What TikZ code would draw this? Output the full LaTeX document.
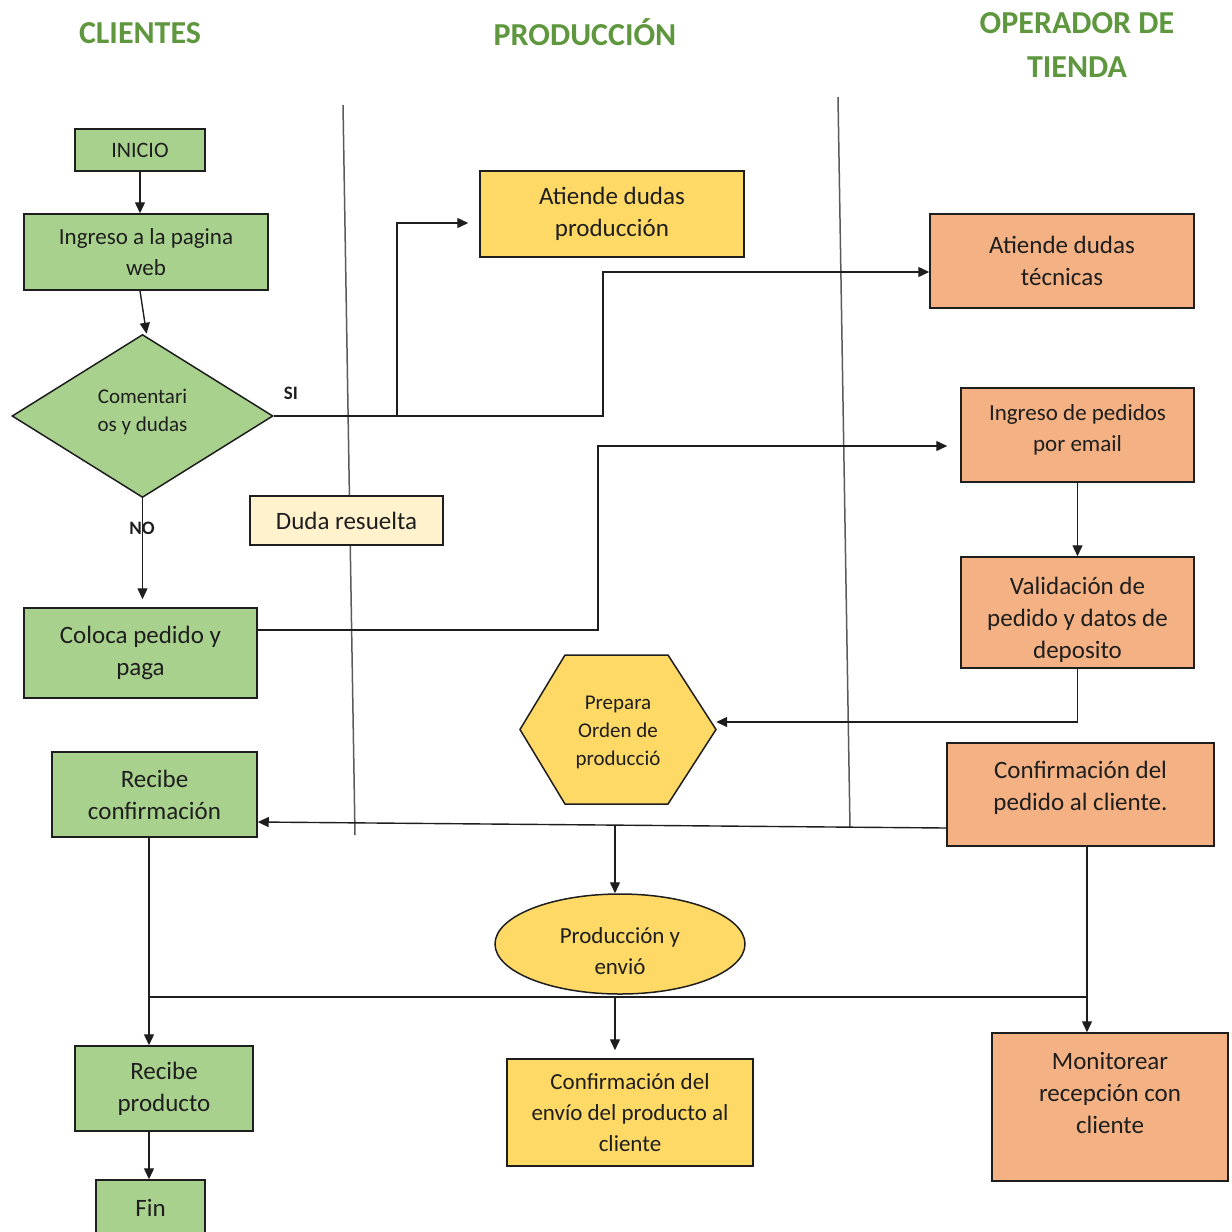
\documentclass[tikz,border=0pt]{standalone}
\usepackage{fontspec}
\setmainfont{Carlito}
\usetikzlibrary{arrows.meta,shapes.geometric}

\definecolor{hdrgreen}{RGB}{94,151,62}
\definecolor{boxgreen}{RGB}{169,209,142}
\definecolor{boxyellow}{RGB}{255,217,102}
\definecolor{boxorange}{RGB}{244,177,131}
\definecolor{boxcream}{RGB}{255,242,204}
\definecolor{ink}{RGB}{30,30,30}
\definecolor{lanegray}{RGB}{90,90,90}

\begin{document}
\begin{tikzpicture}[x=1pt,y=-1pt,
  shapeline/.style={draw=ink, line width=1.5pt},
  proc/.style={shapeline, rectangle, inner sep=0pt, align=center, text=ink},
  green/.style={proc, fill=boxgreen},
  yellow/.style={proc, fill=boxyellow},
  orange/.style={proc, fill=boxorange},
  cream/.style={proc, fill=boxcream},
  fbig/.style={font=\fontsize{25}{32}\selectfont},
  fmed/.style={font=\fontsize{23}{31}\selectfont},
  fsm/.style={font=\fontsize{21}{28}\selectfont},
  header/.style={text=hdrgreen, align=center, font=\fontsize{32}{44}\selectfont\bfseries},
  conn/.style={draw=ink, line width=1.4pt, -{Triangle[length=11pt,width=10pt]}},
  link/.style={draw=ink, line width=1.4pt},
  lanedivider/.style={draw=lanegray, line width=1.5pt},
  tag/.style={text=ink, font=\fontsize{19}{22}\selectfont\bfseries}]

\useasboundingbox (0,0) rectangle (1232,1232);

% lane headers
\node[header] (hcli) at (140,33) {CLIENTES};
\node[header] (hpro) at (585,32) {PRODUCCIÓN};
\node[header] (hope) at (1077,45) {OPERADOR DE\\TIENDA};

% lane dividers
\draw[lanedivider] (343,105) -- (355,835);
\draw[lanedivider] (838,97) -- (850,828);

% clients lane
\node[green, font=\fontsize{22}{28}\selectfont, minimum width=130, minimum height=42] (ini) at (140,150) {INICIO};
\node[green, fmed, minimum width=244, minimum height=76] (ing) at (146,252) {Ingreso a la pagina\\web};
\node[shapeline, diamond, fill=boxgreen, text=ink, align=center, inner sep=0pt,
      minimum width=261, minimum height=163, fsm, text depth=12pt] (dia) at (142.5,416) {Comentari\\os y dudas};
\node[cream, fbig, minimum width=193, minimum height=49] (duda) at (346.5,520.5) {Duda resuelta};
\node[green, fbig, minimum width=233, minimum height=90] (coloca) at (140.5,653) {Coloca pedido y\\paga};
\node[green, fbig, minimum width=205, minimum height=85] (rconf) at (154.5,794.5) {Recibe\\confirmación};
\node[green, fbig, minimum width=178, minimum height=85] (rprod) at (164,1088.5) {Recibe\\producto};
\node[green, fbig, minimum width=109, minimum height=56] (fin) at (150.5,1208) {Fin};

% production lane
\node[yellow, fbig, minimum width=264, minimum height=86] (aprod) at (612,214) {Atiende dudas\\producción};
\draw[shapeline, fill=boxyellow] (520,729.5) -- (565,655) -- (668,655) -- (716,729.5) -- (668,804) -- (565,804) -- cycle;
\node[inner sep=0pt, align=center, text=ink, fsm, text height=76pt, minimum width=196, minimum height=149] (hex) at (618,729.5) {Prepara\\Orden de\\producció};
\node[shapeline, ellipse, fill=boxyellow, text=ink, align=center, inner sep=0pt,
      minimum width=250, minimum height=100, fmed, text height=62pt] (ell) at (620,944) {Producción y\\envió};
\node[yellow, fmed, minimum width=246, minimum height=107] (cenv) at (630,1112.5) {Confirmación del\\envío del producto al\\cliente};

% store operator lane
\node[orange, fbig, minimum width=264, minimum height=94] (tec) at (1062,261) {Atiende dudas\\técnicas};
\node[orange, fmed, minimum width=233, minimum height=94, text depth=13pt] (ped) at (1077.5,435) {Ingreso de pedidos\\por email};
\node[orange, fbig, minimum width=233, minimum height=111, text height=96pt] (val) at (1077.5,612.5) {Validación de\\pedido y datos de\\deposito};
\node[orange, fbig, minimum width=267, minimum height=103, text depth=17pt] (confp) at (1080.5,794.5) {Confirmación del\\pedido al cliente.};
\node[orange, fbig, minimum width=236, minimum height=148, text depth=28pt] (mon) at (1110,1107) {Monitorear\\recepción con\\cliente};

% junction points
\coordinate (br) at (397,416);
\coordinate (sj) at (603,416);
\coordinate (cj) at (598,630);
\coordinate (j1) at (615,825);
\coordinate (hl) at (149,997);
\coordinate (j2) at (615,997);
\coordinate (hr) at (1087,997);

% connectors
\draw[conn] (ini.south) -- (ini.south |- ing.north);
\draw[conn] ([xshift=-6pt]ing.south) -- ([xshift=4pt]dia.north);
\draw[conn] (dia.east) -- (sj) |- ([yshift=-11pt]tec.west);
\draw[conn, shorten >=11pt] (br) |- ([yshift=-9pt]aprod.west);
\draw[conn, shorten >=8pt] (dia.south) -- (dia.south |- coloca.north);
\draw[conn, shorten >=13pt] ([yshift=23pt]coloca.east) -- (cj) |- ([yshift=-11pt]ped.west);
\draw[conn] (ped.south) -- (val.north);
\draw[conn] (val.south) |- ([yshift=7.5pt]hex.east);
\draw[conn] ([yshift=-33.5pt]confp.west) -- ([yshift=-27.5pt]rconf.east);
\draw[conn] (j1) -- (j1 |- ell.north);
\draw[conn] ([xshift=-5.5pt]rconf.south) -- ([xshift=-5.5pt]rconf.south |- rprod.north);
\draw[conn] ([xshift=6.5pt]confp.south) -- ([xshift=6.5pt]confp.south |- mon.north);
\draw[link] (hl) -- (hr);
\draw[conn, shorten >=8pt] (j2) -- (j2 |- cenv.north);
\draw[conn] ([xshift=-15pt]rprod.south) -- ([xshift=-15pt]rprod.south |- fin.north);

% branch labels
\node[tag] (si) at (291,393) {SI};
\node[tag] (no) at (142,528) {NO};

\end{tikzpicture}
\end{document}
